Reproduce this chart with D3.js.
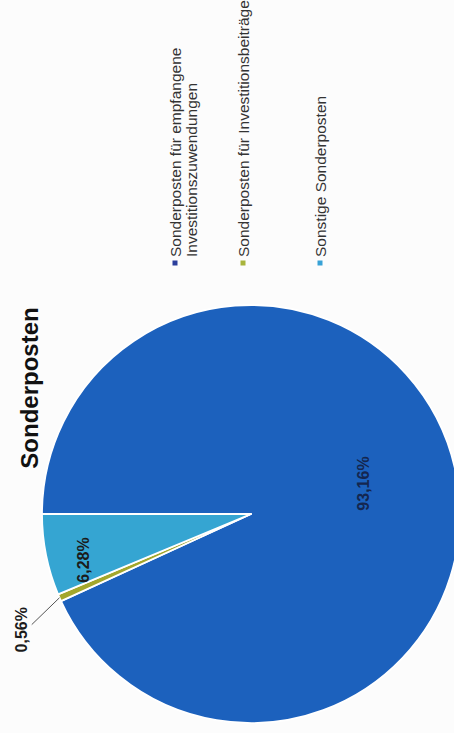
<!DOCTYPE html>
<html>
<head>
<meta charset="utf-8">
<script src="https://cdn.jsdelivr.net/npm/d3@7/dist/d3.min.js"></script>
<style>
  html, body { margin: 0; padding: 0; background: #fcfcfc; }
  svg { display: block; }
</style>
</head>
<body>
<script>
// ---- data ----
const title = "Sonderposten";
const categories = [
  "Sonderposten für empfangene Investitionszuwendungen",
  "Sonderposten für Investitionsbeiträge",
  "Sonstige Sonderposten"
];
const legendLines = [
  ["Sonderposten für empfangene", "Investitionszuwendungen"],
  ["Sonderposten für Investitionsbeiträge"],
  ["Sonstige Sonderposten"]
];
const values = [93.16, 0.56, 6.28];
const valueLabels = ["93,16%", "0,56%", "6,28%"];

// ---- style / layout ----
const colors = ["#1c61bd", "#a3a72c", "#35a5d2"];
const markerColors = ["#2b3f9c", "#a8b43c", "#38a2d6"];
const W = 454, H = 733;          // screen
const cx = 219, cy = 251, R = 209;

const svg = d3.select("body").append("svg")
  .attr("width", W).attr("height", H);
svg.append("rect").attr("width", W).attr("height", H).attr("fill", "#fcfcfc");

// whole chart is rotated 90° counter-clockwise
const g = svg.append("g").attr("transform", `translate(0,${H}) rotate(-90)`);

const font = "'Liberation Sans', Arial, sans-serif";

// title
g.append("text")
  .attr("x", 345).attr("y", 38)
  .attr("text-anchor", "middle")
  .attr("font-family", font).attr("font-size", 24).attr("font-weight", "bold")
  .attr("fill", "#111")
  .text(title);

// pie
const pie = d3.pie().sort(null).value(d => d).startAngle(0).endAngle(2 * Math.PI);
const arcs = pie(values);
const arc = d3.arc().innerRadius(0).outerRadius(R);

const pg = g.append("g").attr("transform", `translate(${cx},${cy})`);
pg.selectAll("path.slice")
  .data(arcs)
  .join("path")
  .attr("class", "slice")
  .attr("d", arc)
  .attr("fill", (d, i) => colors[i])
  .attr("stroke", "#ffffff")
  .attr("stroke-width", 1.8)
  .attr("stroke-linejoin", "round");

// labels
const polar = (a, r) => [r * Math.sin(a), -r * Math.cos(a)];
const labelCfg = [
  { k: 0.55, da: 0, dx: 6, dy: 0, outside: false },
  { k: 1.23, da: -0.055, dx: 0, dy: 0, outside: true },
  { k: 0.83, da: 0, dx: -12, dy: 2, outside: false }
];

arcs.forEach((d, i) => {
  const c = labelCfg[i];
  const mid = (d.startAngle + d.endAngle) / 2;
  const [lx, ly] = polar(mid + c.da, R * c.k);
  if (c.outside) {
    const [ax, ay] = polar(mid, R);
    const [bx, by] = polar(mid + c.da, R * 1.175);
    pg.append("line")
      .attr("x1", ax).attr("y1", ay).attr("x2", bx).attr("y2", by)
      .attr("stroke", "#555").attr("stroke-width", 1);
  }
  pg.append("text")
    .attr("x", lx + c.dx).attr("y", ly + c.dy)
    .attr("dy", "0.35em")
    .attr("text-anchor", "middle")
    .attr("font-family", font).attr("font-size", 16).attr("font-weight", "bold")
    .attr("fill", i === 0 ? "#14264f" : "#1b1b1b")
    .text(valueLabels[i]);
});

// legend
const legendX = 476;
const legendY = [181, 249, 326];
const lg = g.append("g");
categories.forEach((cat, i) => {
  const item = lg.append("g");
  item.append("rect")
    .attr("x", legendX - 8.5).attr("y", legendY[i] - 8.5)
    .attr("width", 5).attr("height", 5)
    .attr("fill", markerColors[i]);
  const t = item.append("text")
    .attr("font-family", font).attr("font-size", 15.5)
    .attr("fill", "#333");
  legendLines[i].forEach((line, j) => {
    t.append("tspan")
      .attr("x", legendX).attr("y", legendY[i] + j * 16)
      .text(line);
  });
});
</script>
</body>
</html>
